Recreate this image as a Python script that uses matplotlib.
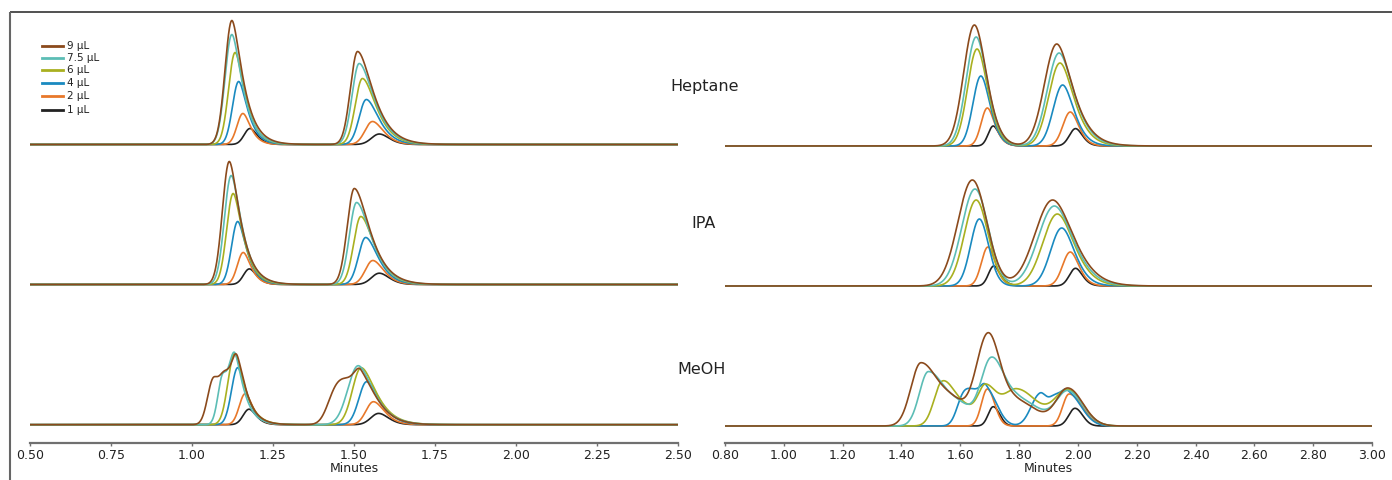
import matplotlib
matplotlib.use('Agg')
import matplotlib.pyplot as plt
from matplotlib.lines import Line2D
import numpy as np

plt.rcParams['font.family'] = ['DejaVu Sans']

# 进样体积与颜色
vols = ['9 µL', '7.5 µL', '6 µL', '4 µL', '2 µL', '1 µL']
colors = ['#8b4a1c', '#5cbdb5', '#a9b020', '#1a8ac0', '#e8782a', '#222222']
solvents = ['Heptane', 'IPA', 'MeOH']

# ---- left column (0.50 - 2.50 min) ----
# peak 1 / peak 2: apex time (min), height (px), front width, back width, tail
lh_t1 = [1.123, 1.123, 1.133, 1.144, 1.157, 1.179]
lh_h1 = [124, 110, 92, 63, 31, 16]
lh_t2 = [1.511, 1.516, 1.526, 1.538, 1.557, 1.578]
lh_h2 = [93, 81, 66, 45, 23, 10.5]
li_t1 = [1.115, 1.121, 1.127, 1.141, 1.158, 1.177]
li_h1 = [123, 109, 91, 63, 32, 15.6]
li_t2 = [1.501, 1.508, 1.521, 1.536, 1.558, 1.578]
li_h2 = [96, 82, 68, 47, 24, 11.3]
l_sig1 = [0.021, 0.021, 0.020, 0.019, 0.018, 0.018]
l_sr1 = [0.021, 0.021, 0.020, 0.019, 0.018, 0.018]
l_tau1 = [0.030, 0.028, 0.026, 0.022, 0.016, 0.013]
l_sig2 = [0.022, 0.022, 0.022, 0.022, 0.023, 0.024]
l_sr2 = [0.035, 0.034, 0.032, 0.030, 0.028, 0.027]
l_tau2 = [0.035, 0.033, 0.030, 0.025, 0.018, 0.012]

# MeOH, left: (time, height, sig_left, sig_right, tail) per hump
lm_peaks = [
    [(1.066, 45, 0.018, 0.018, 0.02), (1.102, 30, 0.016, 0.016, 0.0), (1.138, 64, 0.017, 0.017, 0.026),
     (1.442, 30, 0.025, 0.025, 0.0), (1.480, 30, 0.024, 0.024, 0.0), (1.522, 48, 0.022, 0.035, 0.032)],
    [(1.095, 48, 0.015, 0.015, 0.02), (1.133, 57, 0.016, 0.016, 0.026),
     (1.513, 59, 0.032, 0.035, 0.034)],
    [(1.131, 71, 0.020, 0.020, 0.026), (1.522, 57, 0.027, 0.034, 0.033)],
    [(1.141, 57, 0.019, 0.019, 0.022), (1.539, 43, 0.024, 0.031, 0.027)],
    [(1.164, 31, 0.018, 0.018, 0.016), (1.560, 23, 0.023, 0.028, 0.018)],
    [(1.176, 15.5, 0.018, 0.018, 0.013), (1.576, 11.3, 0.024, 0.027, 0.012)],
]

# ---- right column (0.80 - 3.00 min) ----
rh_t1 = [1.648, 1.654, 1.657, 1.670, 1.692, 1.712]
rh_h1 = [121, 109, 97, 70, 38, 20]
rh_t2 = [1.928, 1.936, 1.939, 1.948, 1.974, 1.992]
rh_h2 = [102, 93, 83, 61, 34, 17.4]
rh_sig1 = [0.0365, 0.034, 0.032, 0.027, 0.021, 0.017]
rh_tau1 = [0.014, 0.014, 0.014, 0.013, 0.013, 0.013]
rh_sig2 = [0.042, 0.040, 0.038, 0.032, 0.025, 0.021]
rh_tau2 = [0.034, 0.030, 0.027, 0.020, 0.012, 0.009]

ri_t1 = [1.641, 1.650, 1.654, 1.665, 1.694, 1.714]
ri_h1 = [106, 97, 86, 67, 39, 20]
ri_t2 = [1.914, 1.920, 1.930, 1.945, 1.974, 1.992]
ri_h2 = [86, 80, 72, 58, 34, 17.7]
ri_sig1 = [0.049, 0.045, 0.040, 0.030, 0.022, 0.018]
ri_tau1 = [0.0, 0.0, 0.002, 0.005, 0.010, 0.013]
ri_sig2 = [0.060, 0.055, 0.049, 0.038, 0.026, 0.021]
ri_tau2 = [0.030, 0.027, 0.024, 0.018, 0.012, 0.009]

rm_peaks = [
    [(1.466, 63, 0.034, 0.06, 0), (1.58, 18, 0.04, 0.04, 0), (1.693, 89, 0.04, 0.04, 0),
     (1.79, 25, 0.05, 0.07, 0), (1.967, 37, 0.04, 0.05, 0)],
    [(1.491, 54, 0.030, 0.055, 0), (1.60, 17, 0.04, 0.04, 0), (1.704, 64, 0.035, 0.042, 0),
     (1.80, 26, 0.05, 0.07, 0), (1.967, 34, 0.04, 0.05, 0)],
    [(1.539, 43, 0.028, 0.04, 0), (1.62, 16, 0.04, 0.04, 0), (1.686, 34, 0.025, 0.035, 0),
     (1.792, 37, 0.05, 0.07, 0), (1.967, 35, 0.045, 0.05, 0)],
    [(1.610, 28, 0.022, 0.022, 0), (1.648, 26, 0.022, 0.022, 0), (1.688, 36, 0.020, 0.036, 0),
     (1.870, 31, 0.030, 0.022, 0), (1.920, 25, 0.022, 0.022, 0), (1.965, 33, 0.022, 0.045, 0)],
    [(1.692, 37, 0.020, 0.025, 0), (1.970, 32, 0.022, 0.045, 0)],
    [(1.712, 19.3, 0.017, 0.022, 0), (1.990, 17.7, 0.021, 0.026, 0)],
]

# 基线高度 (px above axis line)
l_base = [298.5, 158.5, 18.3]
r_base = [297, 157, 17]


def peak(x, t, h, sl, sr, tau=0.0):
    d = x - t
    y = np.exp(-d ** 2 / (2 * sl ** 2))
    right = d > 0
    y[right] = np.exp(-d[right] ** 2 / (2 * sr ** 2 + tau * d[right]))
    return h * y


def simple(t1, h1, s1, r1, k1, t2, h2, s2, r2, k2):
    out = []
    for i in range(6):
        out.append([(t1[i], h1[i], s1[i], r1[i], k1[i]), (t2[i], h2[i], s2[i], r2[i], k2[i])])
    return out


left_sets = [simple(lh_t1, lh_h1, l_sig1, l_sr1, l_tau1, lh_t2, lh_h2, l_sig2, l_sr2, l_tau2),
             simple(li_t1, li_h1, l_sig1, l_sr1, l_tau1, li_t2, li_h2, l_sig2, l_sr2, l_tau2),
             lm_peaks]
right_sets = [simple(rh_t1, rh_h1, rh_sig1, rh_sig1, rh_tau1, rh_t2, rh_h2, rh_sig2, rh_sig2, rh_tau2),
              simple(ri_t1, ri_h1, ri_sig1, ri_sig1, ri_tau1, ri_t2, ri_h2, ri_sig2, ri_sig2, ri_tau2),
              rm_peaks]

W, H = 1392, 480
fig = plt.figure(figsize=(W / 100, H / 100), dpi=100)

ax_l = fig.add_axes([30 / W, 37 / H, 648 / W, 431 / H])
ax_r = fig.add_axes([725 / W, 37 / H, 647 / W, 431 / H])


def draw(ax, sets, bases, xmin, xmax, ticks):
    x = np.linspace(xmin, xmax, 3000)
    for sset, b in zip(sets, bases):
        for i in range(5, -1, -1):
            y = np.zeros_like(x)
            for comp in sset[i]:
                y += peak(x, *comp)
            ax.plot(x, y + b, color=colors[i], lw=1.2, solid_capstyle='butt')
    ax.set_xlim(xmin, xmax)
    ax.set_ylim(0, 431)
    ax.set_yticks([])
    for s in ['top', 'left', 'right']:
        ax.spines[s].set_visible(False)
    ax.spines['bottom'].set_color('#707070')
    ax.spines['bottom'].set_linewidth(1.6)
    ax.set_xticks(ticks)
    ax.set_xticklabels(['%.2f' % v for v in ticks])
    ax.tick_params(axis='x', direction='out', length=2.5, width=1, color='#707070',
                   labelsize=9, pad=1.5, labelcolor='#222222')
    ax.set_xlabel('Minutes', fontsize=9, labelpad=0, color='#222222')


draw(ax_l, left_sets, l_base, 0.5, 2.5, np.arange(0.5, 2.51, 0.25))
draw(ax_r, right_sets, r_base, 0.8, 3.0, np.arange(0.8, 3.01, 0.2))

# 溶剂标签
for name, xp, yp in zip(solvents, [705, 704, 702], [87, 224, 369]):
    fig.text(xp / W, 1 - yp / H, name, fontsize=11.5, ha='center', va='center', color='#222222')

# 图例
leg_y = [46, 58, 70, 83, 96, 110]
for i in range(6):
    yy = 1 - leg_y[i] / H
    fig.add_artist(Line2D([42 / W, 63 / W], [yy, yy], color=colors[i], lw=2, transform=fig.transFigure))
    fig.text(67 / W, yy, vols[i], fontsize=7.5, va='center', ha='left', color='#222222')

# 外框 (top and left only)
fig.add_artist(Line2D([10 / W, 1.01], [1 - 12 / H, 1 - 12 / H], color='#333333', lw=1.2,
                      transform=fig.transFigure, solid_capstyle='butt'))
fig.add_artist(Line2D([10 / W, 10 / W], [-0.01, 1 - 12 / H], color='#666666', lw=1.5,
                      transform=fig.transFigure, solid_capstyle='butt'))

fig.savefig('out.png', dpi=100, facecolor='white')
